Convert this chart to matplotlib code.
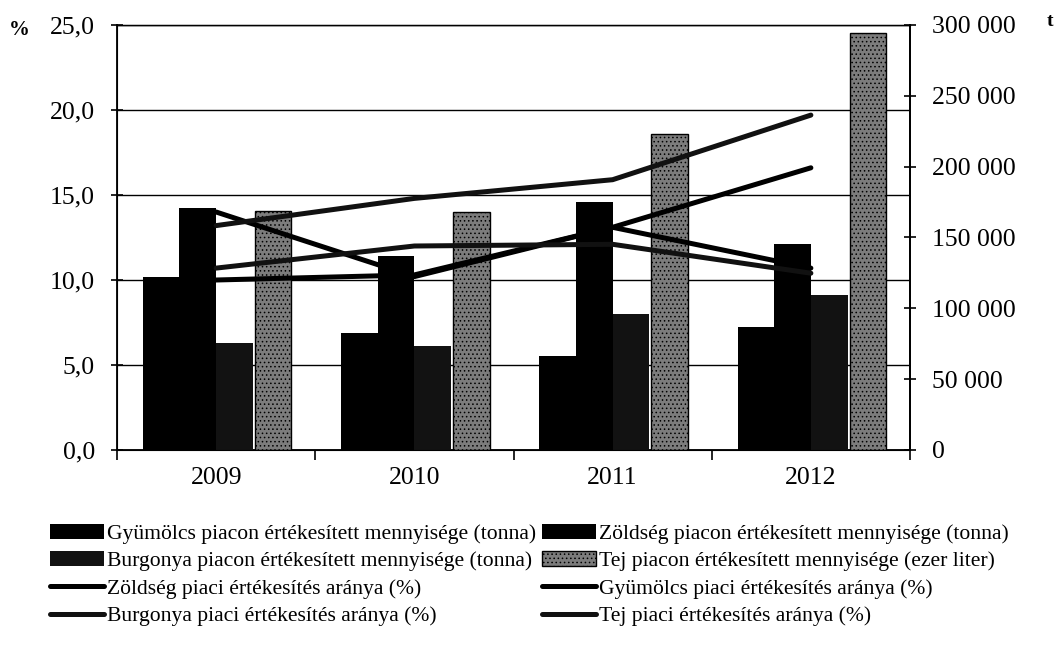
"""
Piaci értékesítés: mennyiségek (oszlop, jobb tengely) és arányok (vonal, bal tengely).
"""

import matplotlib
matplotlib.use("Agg")
import matplotlib.pyplot as plt
import numpy as np
from matplotlib.ticker import FuncFormatter

plt.rcParams["font.family"] = ["Liberation Serif", "DejaVu Serif"]
plt.rcParams["hatch.linewidth"] = 0.6

years = ["2009", "2010", "2011", "2012"]

# piacon értékesített mennyiség (tonna, tej: ezer liter)
gyumolcs_menny = [122000, 82500, 66500, 87000]
zoldseg_menny = [171000, 137000, 175000, 145500]
burgonya_menny = [75700, 73400, 96000, 109500]
tej_menny = [168700, 168000, 223000, 294500]

# piaci értékesítés aránya (%)
zoldseg_arany = [14.0, 10.2, 13.1, 10.7]
gyumolcs_arany = [10.0, 10.3, 13.1, 16.6]
burgonya_arany = [10.7, 12.0, 12.1, 10.4]
tej_arany = [13.2, 14.8, 15.9, 19.7]

W, H = 1059, 659
fig = plt.figure(figsize=(W / 100, H / 100), dpi=100)
ax = fig.add_axes([117 / W, 1 - 450 / H, (910 - 117) / W, 425 / H])

x = np.arange(len(years))
bw = 0.185

# bal tengely: százalék, rácsvonalak
ax.set_xlim(-0.5, len(years) - 0.5)
ax.set_ylim(0, 25)
ax.set_yticks(np.arange(0, 26, 5))
ax.yaxis.set_major_formatter(FuncFormatter(lambda v, _: f"{v:.1f}".replace(".", ",")))
ax.grid(axis="y", color="black", linewidth=1.0)
ax.set_xticks(x)
ax.set_xticklabels(years)
ax.set_xticks(np.arange(-0.5, len(years), 1.0), minor=True)
ax.tick_params(axis="x", which="major", length=0, pad=12, labelsize=18.5)
ax.tick_params(axis="x", which="minor", length=7, width=1.2, direction="out")
ax.tick_params(axis="y", direction="inout", length=8, width=1.2, pad=12, labelsize=18.5)
for s in ax.spines.values():
    s.set_color("black")
    s.set_linewidth(1.3)
ax.spines["top"].set_linewidth(1.0)

# jobb tengely: mennyiségek oszlopokkal
ax2 = ax.twinx()
ax2.set_ylim(0, 300000)
ax2.set_yticks(np.arange(0, 300001, 50000))
ax2.yaxis.set_major_formatter(FuncFormatter(lambda v, _: f"{int(v):,}".replace(",", " ")))
ax2.tick_params(axis="y", direction="inout", length=8, width=1.2, pad=12, labelsize=18.5)
ax2.spines["right"].set_linewidth(1.3)

b_gy = ax2.bar(x - 1.5 * bw, gyumolcs_menny, bw, color="black", linewidth=0)
b_zo = ax2.bar(x - 0.5 * bw, zoldseg_menny, bw, color="black", linewidth=0)
b_bu = ax2.bar(x + 0.5 * bw, burgonya_menny, bw, color="#121212", linewidth=0)
b_te = ax2.bar(x + 1.5 * bw + 0.01, tej_menny, bw, color="#7c7c7c",
               edgecolor="black", hatch="....", linewidth=1.0)

# arányok vonalakkal, az oszlopok fölött
ax3 = ax.twinx()
ax3.set_ylim(0, 25)
ax3.set_yticks([])
for s in ax3.spines.values():
    s.set_visible(False)

lw = 3.6
l_zo, = ax3.plot(x, zoldseg_arany, color="black", linewidth=lw, solid_capstyle="round")
l_gy, = ax3.plot(x, gyumolcs_arany, color="black", linewidth=lw, solid_capstyle="round")
l_bu, = ax3.plot(x, burgonya_arany, color="#111111", linewidth=lw, solid_capstyle="round")
l_te, = ax3.plot(x, tej_arany, color="#111111", linewidth=lw, solid_capstyle="round")

fig.text(9 / W, 1 - 30 / H, "%", fontsize=15, fontweight="bold", va="center")
fig.text(1047 / W, 1 - 22 / H, "t", fontsize=14, fontweight="bold", va="center")

leg_kw = dict(loc="upper left", frameon=False, fontsize=15.6, handlelength=2.5,
              handletextpad=0.15, labelspacing=0.33, borderpad=0, borderaxespad=0)
fig.legend([b_gy, b_bu, l_zo, l_bu],
           ["Gyümölcs piacon értékesített mennyisége (tonna)",
            "Burgonya piacon értékesített mennyisége (tonna)",
            "Zöldség piaci értékesítés aránya (%)",
            "Burgonya piaci értékesítés aránya (%)"],
           bbox_to_anchor=(50 / W, 1 - 524 / H), **leg_kw)
fig.legend([b_zo, b_te, l_gy, l_te],
           ["Zöldség piacon értékesített mennyisége (tonna)",
            "Tej piacon értékesített mennyisége (ezer liter)",
            "Gyümölcs piaci értékesítés aránya (%)",
            "Tej piaci értékesítés aránya (%)"],
           bbox_to_anchor=(542 / W, 1 - 524 / H), **leg_kw)

fig.savefig("out.png", dpi=100)
